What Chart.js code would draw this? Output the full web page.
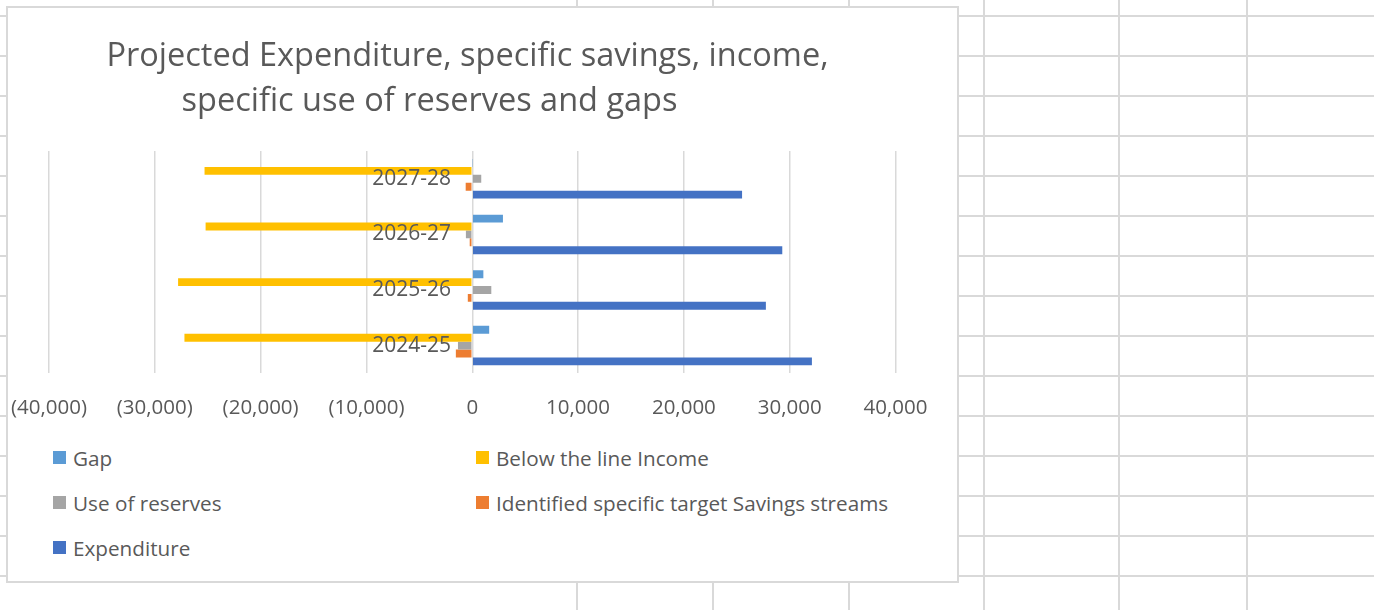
<!DOCTYPE html>
<html lang="en">
<head>
    <meta charset="UTF-8" />
    <title>Projected Expenditure, specific savings, income, specific use of reserves and gaps</title>
    <script src="https://cdn.jsdelivr.net/npm/chart.js@4.4.1/dist/chart.umd.min.js"></script>
    <style>
        body {
            margin: 0;
            width: 1374px;
            height: 610px;
            overflow: hidden;
            background: #ffffff;
            position: relative;
            font-family: "Open Sans", sans-serif;
        }
        .sheet-line {
            position: absolute;
            background: #d9d9d9;
        }
        #chartBox {
            position: absolute;
            left: 6px;
            top: 6px;
            width: 953px;
            height: 577px;
            box-sizing: border-box;
            border: 2px solid #d9d9d9;
            background: #ffffff;
        }
        #chartBox canvas {
            position: absolute;
            left: 0;
            top: 0;
        }
        .legend-item {
            position: absolute;
            display: flex;
            align-items: center;
            height: 30px;
            margin-top: -15px;
            font-size: 20.7px;
            color: #595959;
            white-space: nowrap;
        }
        .legend-item span.box {
            width: 13px;
            height: 13px;
            margin-right: 7px;
        }
    </style>
</head>
<body>
    <div id="chartBox">
        <canvas id="chart" width="949" height="415"></canvas>
        <div id="legend"></div>
    </div>

    <script>
        // === Data (values in £000) ===
        const categories = ["2024-25", "2025-26", "2026-27", "2027-28"];
        const gap = [1600, 1050, 2900, 40];
        const belowLineIncome = [-27200, -27800, -25200, -25300];
        const useOfReserves = [-1350, 1800, -600, 850];
        const savingsStreams = [-1550, -420, -240, -620];
        const expenditure = [32100, 27750, 29300, 25500];
        const xTicks = [-40000, -30000, -20000, -10000, 0, 10000, 20000, 30000, 40000];

        // spreadsheet cell grid behind the chart
        const SHEET_COLS = [577, 713, 849, 983.5, 1119, 1247];
        SHEET_COLS.forEach((x) => {
            const d = document.createElement("div");
            d.className = "sheet-line";
            d.style.cssText = `left:${x - 1}px;top:0;width:2px;height:610px`;
            document.body.insertBefore(d, document.body.firstChild);
        });
        for (let y = 15; y < 610; y += 40) {
            const d = document.createElement("div");
            d.className = "sheet-line";
            d.style.cssText = `left:0;top:${y}px;width:1374px;height:2px`;
            document.body.insertBefore(d, document.body.firstChild);
        }

        const GREY_TEXT = "#595959";
        const FONT = "'Open Sans', sans-serif";

        // (10,000) style for negatives
        const fmt = (v) => {
            const s = Math.abs(v).toLocaleString("en-US");
            return v < 0 ? `(${s})` : s;
        };

        // HTML legend laid out in two columns like the Excel one
        const htmlLegend = {
            id: "htmlLegend",
            afterUpdate(chart) {
                const holder = document.getElementById("legend");
                holder.innerHTML = "";
                chart.data.datasets.forEach((ds, i) => {
                    const item = document.createElement("div");
                    item.className = "legend-item";
                    item.style.left = (i % 2 ? 468 : 45) + "px";
                    item.style.top = (449.5 + Math.floor(i / 2) * 45) + "px";
                    const box = document.createElement("span");
                    box.className = "box";
                    box.style.background = ds.backgroundColor;
                    const label = document.createElement("span");
                    label.textContent = ds.label;
                    item.appendChild(box);
                    item.appendChild(label);
                    holder.appendChild(item);
                });
            }
        };

        new Chart(document.getElementById("chart"), {
            type: "bar",
            data: {
                labels: categories,
                datasets: [
                    { label: "Gap", data: gap, backgroundColor: "#5B9BD5" },
                    { label: "Below the line Income", data: belowLineIncome, backgroundColor: "#FFC000" },
                    { label: "Use of reserves", data: useOfReserves, backgroundColor: "#A5A5A5" },
                    { label: "Identified specific target Savings streams", data: savingsStreams, backgroundColor: "#ED7D31" },
                    { label: "Expenditure", data: expenditure, backgroundColor: "#4472C4" }
                ]
            },
            options: {
                indexAxis: "y",
                responsive: false,
                animation: false,
                categoryPercentage: 0.71,
                barPercentage: 1,
                layout: {
                    padding: { left: 31.5, right: 61.5, top: 0, bottom: 0 }
                },
                scales: {
                    x: {
                        min: -40000,
                        max: 40000,
                        afterBuildTicks: (axis) => {
                            axis.ticks = xTicks.map((v) => ({ value: v }));
                        },
                        // invisible tick marks push the labels down without widening the side padding
                        grid: { color: "#d9d9d9", lineWidth: 1.5, drawTicks: true, tickLength: 19, tickColor: "rgba(0,0,0,0)" },
                        border: { display: false },
                        ticks: {
                            callback: (v) => fmt(v),
                            color: GREY_TEXT,
                            font: { family: FONT, size: 20.5 },
                            padding: 3,
                            maxRotation: 0
                        }
                    },
                    y: {
                        reverse: true,
                        position: { x: -2000 }, // labels sit just left of the zero line
                        grid: { display: false },
                        border: { display: false },
                        ticks: {
                            color: GREY_TEXT,
                            font: { family: FONT, size: 21 },
                            padding: 0,
                            z: 1
                        }
                    }
                },
                plugins: {
                    legend: { display: false },
                    tooltip: { enabled: false },
                    title: {
                        display: true,
                        text: [
                            "Projected Expenditure, specific savings, income,",
                            "specific use of reserves and gaps         "
                        ],
                        color: GREY_TEXT,
                        font: { family: FONT, size: 32.5, weight: "normal", lineHeight: 45 / 32.5 },
                        padding: { top: 26, bottom: 27 }
                    }
                }
            },
            plugins: [htmlLegend]
        });
    </script>
</body>
</html>
